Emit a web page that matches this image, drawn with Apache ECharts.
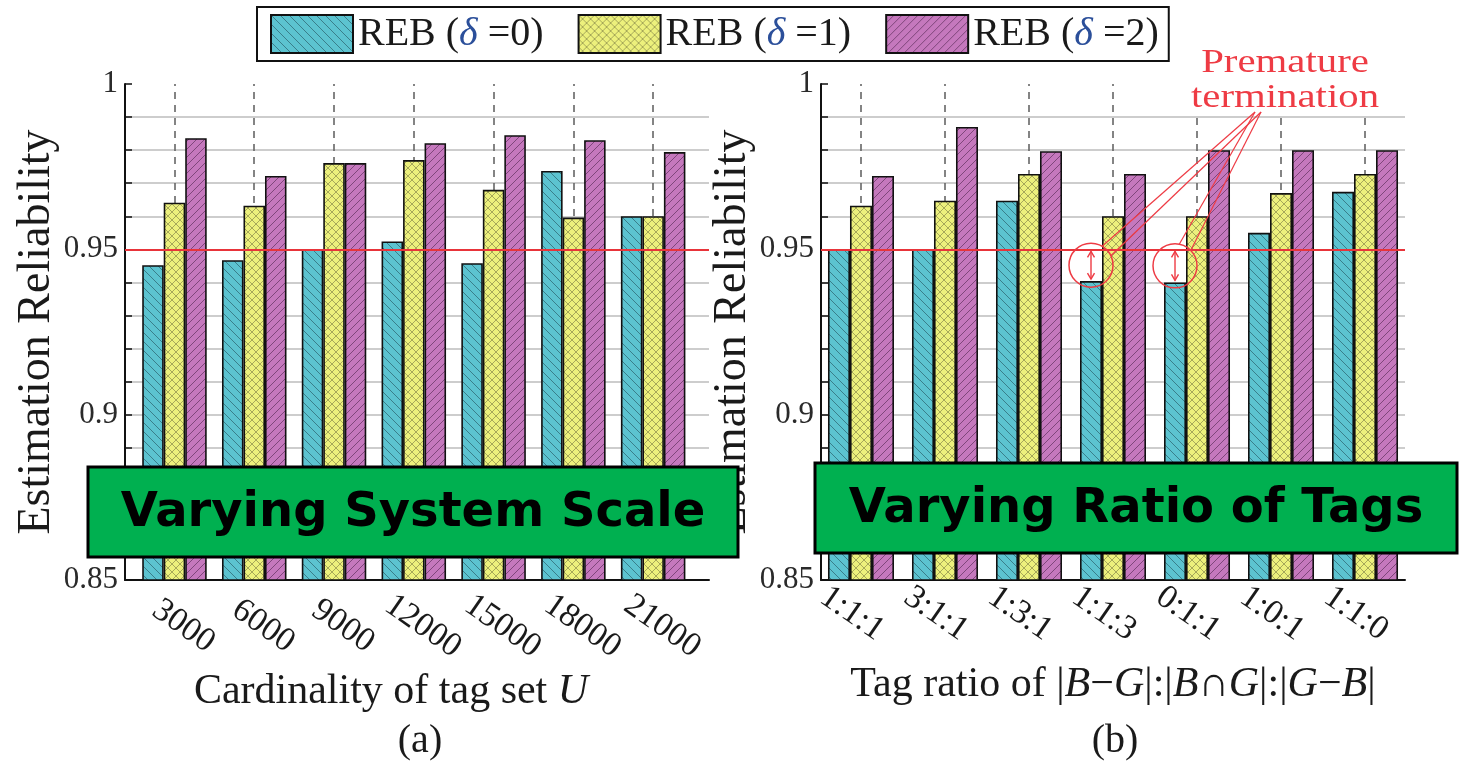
<!DOCTYPE html>
<html>
<head>
<meta charset="utf-8">
<script src="https://cdn.jsdelivr.net/npm/echarts@6/dist/echarts.min.js"></script>
<style>
  html, body { margin: 0; padding: 0; background: #fff; }
  #chart { width: 1462px; height: 763px; }
</style>
</head>
<body>
<div id="chart"></div>
<script>
// (a) varying system scale
const scaleCats = ['3000', '6000', '9000', '12000', '15000', '18000', '21000'];
const scaleReb0 = [0.9452, 0.9467, 0.950, 0.9524, 0.9458, 0.9737, 0.960];
const scaleReb1 = [0.9641, 0.9632, 0.9761, 0.9770, 0.9680, 0.9596, 0.960];
const scaleReb2 = [0.9836, 0.9722, 0.9761, 0.9821, 0.9845, 0.9830, 0.9794];

// (b) varying ratio of tags
const ratioCats = ['1:1:1', '3:1:1', '1:3:1', '1:1:3', '0:1:1', '1:0:1', '1:1:0'];
const ratioReb0 = [0.950, 0.950, 0.9647, 0.9404, 0.940, 0.955, 0.9674];
const ratioReb1 = [0.9632, 0.9647, 0.9728, 0.960, 0.960, 0.967, 0.9728];
const ratioReb2 = [0.9722, 0.987, 0.9797, 0.9728, 0.980, 0.980, 0.980];

const seriesNames = ['REB (δ =0)', 'REB (δ =1)', 'REB (δ =2)'];
const prematureIdx = [3, 4];
const threshold = 0.95;

const serifName = 'Liberation Serif';
const serif = '"Liberation Serif", "Times New Roman", serif';
const ink = '#1a1a1a';

// hatch fills, drawn on tiny canvases
function hatch(base, line, size, dirs) {
  const c = document.createElement('canvas');
  c.width = c.height = size;
  const g = c.getContext('2d');
  g.fillStyle = base;
  g.fillRect(0, 0, size, size);
  g.strokeStyle = line;
  g.lineWidth = 1;
  dirs.forEach(d => {
    for (let k = -1; k <= 1; k++) {
      g.beginPath();
      if (d === '\\') { g.moveTo(k * size, 0); g.lineTo(k * size + size, size); }
      else { g.moveTo(k * size, size); g.lineTo(k * size + size, 0); }
      g.stroke();
    }
  });
  return { image: c, repeat: 'repeat' };
}

const fills = [
  hatch('#5cc3d0', 'rgba(30,70,80,0.55)', 9, ['\\']),
  hatch('#ecf07c', 'rgba(110,110,60,0.55)', 8, ['\\', '/']),
  hatch('#c578bd', 'rgba(70,30,70,0.55)', 8, ['/'])
];

function barSeries(k, data, axis, width) {
  const s = {
    type: 'bar',
    name: seriesNames[k],
    xAxisIndex: axis,
    yAxisIndex: axis,
    data: data.map((v, i) => [i, v]),
    barWidth: width,
    barGap: '0%',
    itemStyle: { color: fills[k], borderColor: '#111', borderWidth: 1.6 },
    emphasis: { disabled: true }
  };
  if (k === 0) {
    s.markLine = {
      silent: true,
      symbol: 'none',
      z: 6,
      label: { show: false },
      lineStyle: { color: '#e8343a', width: 2.2, type: 'solid' },
      data: [{ yAxis: threshold }]
    };
  }
  return s;
}

// dashed guides at each category centre, behind the bars
function guideSeries(cats, axis) {
  return {
    type: 'line',
    xAxisIndex: axis,
    yAxisIndex: axis,
    data: [],
    markLine: {
      silent: true,
      symbol: 'none',
      z: 1,
      label: { show: false },
      lineStyle: { color: '#666', width: 1.6, type: [7, 6] },
      data: cats.map((c, i) => ({ xAxis: i }))
    }
  };
}

function xAxisOf(cats, axis, min, max, name, pad) {
  return {
    type: 'value',
    gridIndex: axis,
    min, max,
    axisLine: { show: true, onZero: false, lineStyle: { color: '#111', width: 2 } },
    axisTick: { show: false },
    splitLine: { show: false },
    axisLabel: {
      customValues: cats.map((c, i) => i),
      formatter: v => cats[Math.round(v)] || '',
      rotate: -35,
      align: 'center',
      verticalAlign: 'middle',
      margin: 40,
      padding: pad,
      fontSize: 34,
      fontFamily: serif,
      color: ink
    },
    name,
    nameLocation: 'middle',
    nameGap: 84,
    nameTextStyle: {
      fontSize: 42,
      fontFamily: serif,
      color: ink,
      padding: axis === 0 ? [0, 52, 0, 0] : 0,
      rich: { i: { fontSize: 42, fontFamily: serif, fontStyle: 'italic', color: ink } }
    }
  };
}

function yAxisOf(axis, gap) {
  return {
    type: 'value',
    gridIndex: axis,
    min: 0.85,
    max: 1,
    interval: 0.05,
    axisLine: { show: true, onZero: false, lineStyle: { color: '#111', width: 2 } },
    axisTick: { show: true, inside: true, length: 7, lineStyle: { color: '#111', width: 1.5 } },
    minorTick: { show: true, splitNumber: 5, length: 7, lineStyle: { color: '#111', width: 1.5 } },
    splitLine: { show: true, showMinLine: false, showMaxLine: false, lineStyle: { color: '#bdbdbd', width: 1.5 } },
    minorSplitLine: { show: true, lineStyle: { color: '#bdbdbd', width: 1.5 } },
    axisLabel: { fontSize: 31, fontFamily: serif, color: '#2a2a2a', margin: 7 },
    name: 'Estimation Reliability',
    nameLocation: 'middle',
    nameGap: gap,
    nameTextStyle: { fontSize: 46, fontFamily: serif, color: ink }
  };
}

const chart = echarts.init(document.getElementById('chart'));

chart.setOption({
  animation: false,
  backgroundColor: '#fff',
  legend: {
    data: seriesNames,
    left: 257,
    top: 7,
    padding: [7, 10, 7, 13],
    itemWidth: 82,
    itemHeight: 38,
    itemGap: 34,
    borderColor: '#111',
    borderWidth: 2,
    selectedMode: false,
    icon: 'rect',
    itemStyle: { borderColor: '#111', borderWidth: 2 },
    formatter: n => n.replace('δ', '{d|δ}'),
    textStyle: {
      fontSize: 40,
      fontFamily: serif,
      color: ink,
      rich: { d: { fontSize: 40, fontFamily: serif, fontStyle: 'italic', color: '#2b4f9a' } }
    }
  },
  grid: [
    { left: 125, right: 753, top: 84, bottom: 183 },
    { left: 821, right: 57, top: 84, bottom: 183 }
  ],
  xAxis: [
    xAxisOf(scaleCats, 0, -0.62, 6.7, 'Cardinality of tag set {i|U}', [0, 0, 0, 22]),
    xAxisOf(ratioCats, 1, -0.476, 6.476,
      'Tag ratio of |{i|B}−{i|G}|:|{i|B}∩{i|G}|:|{i|G}−{i|B}|', [0, 22, 0, 0])
  ],
  yAxis: [yAxisOf(0, 64), yAxisOf(1, 60)],
  series: [
    guideSeries(scaleCats, 0),
    barSeries(0, scaleReb0, 0, 21.5),
    barSeries(1, scaleReb1, 0, 21.5),
    barSeries(2, scaleReb2, 0, 21.5),
    guideSeries(ratioCats, 1),
    barSeries(0, ratioReb0, 1, 22),
    barSeries(1, ratioReb1, 1, 22),
    barSeries(2, ratioReb2, 1, 22)
  ]
});

// annotations, placed from the data coordinates
function px(axis, x, y) {
  return chart.convertToPixel({ xAxisIndex: axis, yAxisIndex: axis }, [x, y]);
}

const red = '#ee3b44';
const graphics = [];

// "Premature termination" callout
const top5 = px(1, 5, 1);
const tx = top5[0] + 4, ty = top5[1] - 3;
graphics.push({
  type: 'text', x: tx, y: ty, scaleX: 1.2, z: 60,
  style: {
    text: 'Premature\ntermination',
    fontFamily: serifName,
    fontSize: 34,
    fill: red,
    align: 'center', verticalAlign: 'middle',
    textAlign: 'center', textVerticalAlign: 'middle',
    lineHeight: 35,
    backgroundColor: '#fff'
  }
});
const ax = tx - 27, ay = ty + 31;

prematureIdx.forEach(i => {
  const cx = px(1, i, 0)[0] - 22;
  const y95 = px(1, i, threshold)[1];
  const yLow = px(1, i, ratioReb0[i])[1];
  const cy = (y95 + yLow) / 2;
  const r = 22;
  graphics.push({
    type: 'circle', z: 60,
    shape: { cx, cy, r },
    style: { fill: 'none', stroke: red, lineWidth: 1.5 }
  });
  graphics.push({
    type: 'line', z: 60,
    shape: { x1: cx, y1: y95 + 2, x2: cx, y2: yLow - 2 },
    style: { stroke: red, lineWidth: 1.4 }
  });
  graphics.push({
    type: 'polyline', z: 60,
    shape: { points: [[cx - 3.5, y95 + 8], [cx, y95 + 2], [cx + 3.5, y95 + 8]] },
    style: { stroke: red, lineWidth: 1.4, fill: 'none' }
  });
  graphics.push({
    type: 'polyline', z: 60,
    shape: { points: [[cx - 3.5, yLow - 8], [cx, yLow - 2], [cx + 3.5, yLow - 8]] },
    style: { stroke: red, lineWidth: 1.4, fill: 'none' }
  });
  const ang = Math.atan2(ay - cy, ax - cx);
  [-0.3, 0.3].forEach((d, j) => {
    graphics.push({
      type: 'line', z: 60,
      shape: {
        x1: ax + (j ? 3 : -3), y1: ay,
        x2: cx + r * Math.cos(ang + d), y2: cy + r * Math.sin(ang + d)
      },
      style: { stroke: red, lineWidth: 1.2 }
    });
  });
});

// sub-figure tags
const midA = (px(0, -0.62, 0.85)[0] + px(0, 6.7, 0.85)[0]) / 2;
const midB = (px(1, -0.476, 0.85)[0] + px(1, 6.476, 0.85)[0]) / 2;
[[midA + 3, '(a)'], [midB + 2, '(b)']].forEach(([x, t]) => {
  graphics.push({
    type: 'text', x, y: 741, z: 50,
    style: {
      text: t, fontFamily: serifName, fontSize: 40, fill: ink,
      align: 'center', verticalAlign: 'middle',
      textAlign: 'center', textVerticalAlign: 'middle'
    }
  });
});

// green overlay captions
[
  [88, 467, 650, 90, 'Varying System Scale'],
  [815, 463, 642, 90, 'Varying Ratio of Tags']
].forEach(([x, y, w, h, t]) => {
  graphics.push({
    type: 'rect', z: 80,
    shape: { x, y, width: w, height: h },
    style: { fill: '#00b050', stroke: '#000', lineWidth: 3 }
  });
  graphics.push({
    type: 'text', z: 81, x: x + w / 2, y: y + h / 2 + 2,
    style: {
      text: t, fontFamily: 'DejaVu Sans', fontWeight: 'bold', fontSize: 48, fill: '#000',
      align: 'center', verticalAlign: 'middle',
      textAlign: 'center', textVerticalAlign: 'middle'
    }
  });
});

chart.setOption({ graphic: graphics });
</script>
</body>
</html>
